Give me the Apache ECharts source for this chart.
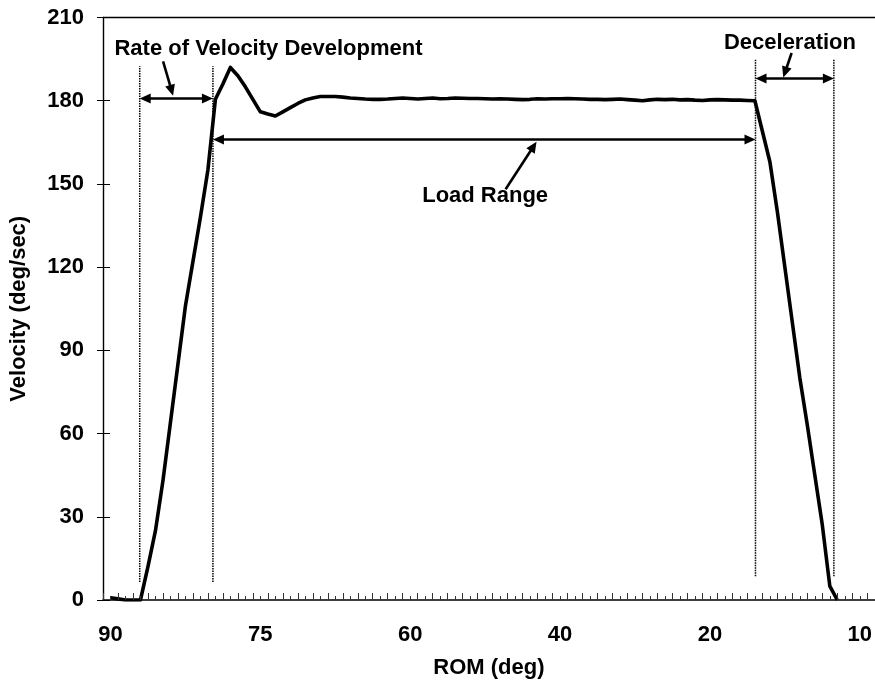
<!DOCTYPE html>
<html>
<head>
<meta charset="utf-8">
<script src="https://cdn.jsdelivr.net/npm/echarts@6/dist/echarts.min.js"></script>
<style>
html,body{margin:0;padding:0;background:#fff;}
#main{width:875px;height:684px;}
</style>
</head>
<body>
<div id="main"></div>
<script>
// ---- data ----
const categoryCount = 104;
const tickLabels = ['90', '75', '60', '40', '20', '10'];
const tickLabelIndex = [1, 21, 41, 61, 81, 101];
const velocity = [
  null, 0.8, 0.4, 0, 0, 0, 12, 25, 43, 64,
  85, 106, 122, 138, 155, 180.5, 186, 192, 189, 185,
  180.5, 176, 175.2, 174.5, 176, 177.5, 179, 180.3, 181, 181.5,
  181.5, 181.5, 181.3, 181.0, 180.8, 180.6, 180.5, 180.5, 180.6, 180.8,
  181.0, 180.8, 180.6, 180.8, 181.0, 180.7, 180.8, 181.0, 180.9, 180.8,
  180.8, 180.7, 180.6, 180.7, 180.6, 180.5, 180.4, 180.5, 180.7, 180.6,
  180.7, 180.7, 180.8, 180.7, 180.6, 180.5, 180.5, 180.4, 180.5, 180.6,
  180.4, 180.2, 180.0, 180.3, 180.5, 180.4, 180.5, 180.3, 180.4, 180.2,
  180.1, 180.3, 180.4, 180.3, 180.2, 180.2, 180.1, 180.0, 169, 158,
  140, 120, 100, 80, 63, 45, 27, 5, 0
];
const yTicks = [0, 30, 60, 90, 120, 150, 180, 210];

// annotations in data units [category index, velocity]
const dividers = [
  {x: 4.90, y0: 6.5, y1: 192.4},
  {x: 14.67, y0: 6.5, y1: 192.4},
  {x: 87.08, y0: 8.6, y1: 194.8},
  {x: 97.54, y0: 8.6, y1: 194.8}
];
const spans = [
  {x0: 4.90, x1: 14.67, y: 180.8},
  {x0: 14.67, x1: 87.08, y: 166},
  {x0: 87.08, x1: 97.54, y: 188}
];
const pointers = [
  {from: [8.02, 194.2], to: [9.35, 181.8]},
  {from: [53.73, 148.1], to: [57.86, 165.2]},
  {from: [91.90, 197.2], to: [90.79, 188.4]}
];
const labels = [
  {text: 'Rate of Velocity Development', at: [1.53, 198.5], align: 'left'},
  {text: 'Load Range', at: [51.0, 145.6], align: 'center'},
  {text: 'Deceleration', at: [91.68, 200.7], align: 'center'}
];

// ---- chart ----
const categories = [];
for (let i = 0; i < categoryCount; i++) {
  const j = tickLabelIndex.indexOf(i);
  categories.push(j >= 0 ? tickLabels[j] : '');
}
const FONT = "'Liberation Sans', Arial, sans-serif";
const FS = 22;
const chart = echarts.init(document.getElementById('main'), null, {renderer: 'canvas'});

const yMin = yTicks[0], yMax = yTicks[yTicks.length - 1], yStep = yTicks[1] - yTicks[0];

chart.setOption({
  animation: false,
  backgroundColor: '#fff',
  grid: {left: 101.5, top: 17.5, right: 0, bottom: 81},
  xAxis: [{
    type: 'category', data: categories, boundaryGap: false,
    axisLine: {lineStyle: {color: '#000', width: 1.6}},
    axisTick: {show: true, inside: true, interval: 0, length: 4, lineStyle: {color: '#333', width: 1}},
    axisLabel: {interval: function (i, v) { return v !== ''; }, color: '#000', fontFamily: FONT,
                fontWeight: 'bold', fontSize: FS, margin: 24},
    name: 'ROM (deg)', nameLocation: 'middle', nameGap: 57,
    nameTextStyle: {color: '#000', fontFamily: FONT, fontWeight: 'bold', fontSize: FS},
    splitLine: {show: false}, z: 3
  }, {
    type: 'category', data: categories, boundaryGap: false, position: 'bottom',
    axisLine: {show: false},
    axisTick: {show: true, inside: true, interval: 1, length: 7, lineStyle: {color: '#333', width: 1}},
    axisLabel: {show: false}, splitLine: {show: false}, z: 3
  }, {
    type: 'category', data: categories, boundaryGap: false, position: 'top',
    axisLine: {show: true, lineStyle: {color: '#000', width: 1.3}},
    axisTick: {show: false}, axisLabel: {show: false}, splitLine: {show: false}
  }],
  yAxis: [{
    type: 'value', min: yMin, max: yMax, interval: yStep,
    axisLine: {show: true, lineStyle: {color: '#000', width: 1.4}},
    axisTick: {show: true, inside: false, length: 6, lineStyle: {color: '#000', width: 1}},
    axisLabel: {color: '#000', fontFamily: FONT, fontWeight: 'bold', fontSize: FS, margin: 19},
    splitLine: {show: false},
    name: 'Velocity (deg/sec)', nameLocation: 'middle', nameGap: 73, nameRotate: 90,
    nameTextStyle: {color: '#000', fontFamily: FONT, fontWeight: 'bold', fontSize: FS}
  }, {
    type: 'value', min: yMin, max: yMax, interval: yStep, position: 'left',
    axisLine: {show: false},
    axisTick: {show: true, inside: true, length: 7, lineStyle: {color: '#000', width: 1}},
    axisLabel: {show: false}, splitLine: {show: false}
  }],
  series: [{
    type: 'line', data: velocity, xAxisIndex: 0, yAxisIndex: 0,
    showSymbol: false, symbol: 'none', connectNulls: false,
    lineStyle: {color: '#000', width: 3.6, join: 'round', cap: 'butt'}, z: 2
  }]
});

// ---- annotations, placed through the axes ----
const a = chart.convertToPixel({xAxisIndex: 0, yAxisIndex: 0}, [0, yMin]);
const b = chart.convertToPixel({xAxisIndex: 0, yAxisIndex: 0}, [100, yMax]);
function px(i, v) {
  return [a[0] + (b[0] - a[0]) * i / 100, a[1] + (b[1] - a[1]) * (v - yMin) / (yMax - yMin)];
}
function head(tip, from, len, half) {
  const dx = tip[0] - from[0], dy = tip[1] - from[1];
  const d = Math.sqrt(dx * dx + dy * dy);
  const ux = dx / d, uy = dy / d;
  const bx = tip[0] - ux * len, by = tip[1] - uy * len;
  return {type: 'polygon', z: 20, shape: {points: [tip, [bx - uy * half, by + ux * half], [bx + uy * half, by - ux * half]]},
          style: {fill: '#000'}};
}
const g = [];
dividers.forEach(d => {
  const p = px(d.x, d.y0), q = px(d.x, d.y1);
  g.push({type: 'line', z: 10, shape: {x1: p[0], y1: p[1], x2: q[0], y2: q[1]},
          style: {stroke: '#000', lineWidth: 1.5, lineDash: [1.5, 1]}});
});
spans.forEach(s => {
  const p = px(s.x0, s.y), q = px(s.x1, s.y);
  g.push({type: 'line', z: 20, shape: {x1: p[0] + 6, y1: p[1], x2: q[0] - 6, y2: q[1]},
          style: {stroke: '#000', lineWidth: 2.6}});
  g.push(head(p, q, 11, 5));
  g.push(head(q, p, 11, 5));
});
pointers.forEach(t => {
  const p = px(t.from[0], t.from[1]), q = px(t.to[0], t.to[1]);
  const dx = q[0] - p[0], dy = q[1] - p[1], d = Math.sqrt(dx * dx + dy * dy);
  g.push({type: 'line', z: 20, shape: {x1: p[0], y1: p[1], x2: q[0] - dx / d * 6, y2: q[1] - dy / d * 6},
          style: {stroke: '#000', lineWidth: 2.6}});
  g.push(head(q, p, 11, 5));
});
labels.forEach(l => {
  const p = px(l.at[0], l.at[1]);
  g.push({type: 'text', z: 30, x: p[0], y: p[1],
          style: {text: l.text, fill: '#000', font: 'bold ' + FS + 'px ' + FONT, textAlign: l.align, textVerticalAlign: 'middle'}});
});
chart.setOption({graphic: g});
</script>
</body>
</html>
